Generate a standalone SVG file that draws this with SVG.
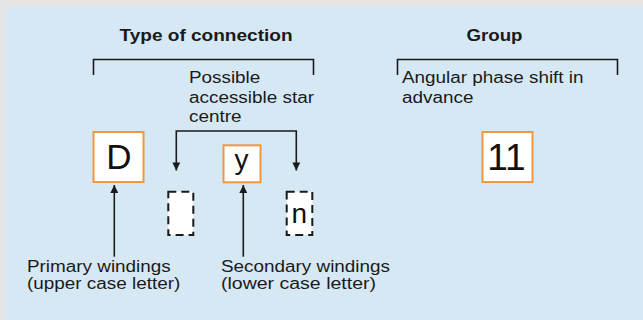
<svg xmlns="http://www.w3.org/2000/svg" width="643" height="320" viewBox="0 0 643 320">
<defs>
<style>
.t{font-family:"Liberation Sans",Arial,sans-serif;font-size:16px;fill:#1a1a1a}
.b{font-weight:bold}
.big{font-family:"Liberation Sans",Arial,sans-serif;fill:#111;text-anchor:middle}
.ln{fill:none;stroke:#1a1a1a;stroke-width:1.6}
.ob{fill:#fff;stroke:#f0973f;stroke-width:2}
.db{fill:#fff;stroke:#1a1a1a;stroke-width:2;stroke-dasharray:8 5}
</style>
<marker id="ah" viewBox="0 0 10 10" refX="10" refY="5" markerWidth="10" markerHeight="8" markerUnits="userSpaceOnUse" orient="auto-start-reverse">
<path d="M0,0 L10,5 L0,10 z" fill="#1a1a1a"/>
</marker>
</defs>
<rect x="0" y="0" width="643" height="320" fill="#e5e5e5"/>
<rect x="6" y="7.5" width="637" height="312.5" fill="#d7e8f5"/>

<g id="connectors">
<path class="ln" d="M93.5,75 V59.5 H313.5 V75"/>
<path class="ln" d="M397.5,75 V59.5 H617.5 V75"/>
<path class="ln" d="M176.3,170.5 V131 H296.3 V170.5" marker-start="url(#ah)" marker-end="url(#ah)"/>
<path class="ln" d="M114.3,256.7 V185" marker-end="url(#ah)"/>
<path class="ln" d="M243.3,256.7 V185" marker-end="url(#ah)"/>
</g>

<g id="title-type"><text class="t b" x="206" y="40.7" text-anchor="middle" textLength="173" lengthAdjust="spacingAndGlyphs">Type of connection</text></g>
<g id="title-group"><text class="t b" x="494.5" y="40.7" text-anchor="middle" textLength="56" lengthAdjust="spacingAndGlyphs">Group</text></g>

<g id="star-label">
<text class="t" x="189" y="83.3" textLength="71.3" lengthAdjust="spacingAndGlyphs">Possible</text>
<text class="t" x="189" y="102.7" textLength="125" lengthAdjust="spacingAndGlyphs">accessible star</text>
<text class="t" x="189" y="122.2" textLength="52.5" lengthAdjust="spacingAndGlyphs">centre</text>
</g>
<g id="phase-label">
<text class="t" x="402" y="82.7" textLength="181.5" lengthAdjust="spacingAndGlyphs">Angular phase shift in</text>
<text class="t" x="402" y="102.7" textLength="71.4" lengthAdjust="spacingAndGlyphs">advance</text>
</g>

<g id="node-D"><rect class="ob" x="93.5" y="132" width="50" height="50"/><text class="big" x="119" y="169.3" font-size="35">D</text></g>
<g id="node-y"><rect class="ob" x="223.5" y="145.3" width="37" height="37"/><text class="big" x="241.5" y="168.8" font-size="28">y</text></g>
<g id="node-11"><rect class="ob" x="482.5" y="132" width="50" height="50"/><text class="big" x="506.5" y="170" font-size="37">11</text></g>
<g id="node-blank"><rect class="db" x="168.3" y="191.7" width="25" height="43.3"/></g>
<g id="node-n"><rect class="db" x="286.7" y="191.7" width="25.6" height="43.3"/><text class="big" x="299.3" y="223" font-size="28">n</text></g>

<g id="primary-label">
<text class="t" x="27" y="271.7" textLength="143.7" lengthAdjust="spacingAndGlyphs">Primary windings</text>
<text class="t" x="27" y="289.3" textLength="153.3" lengthAdjust="spacingAndGlyphs">(upper case letter)</text>
</g>
<g id="secondary-label">
<text class="t" x="221" y="271.7" textLength="169" lengthAdjust="spacingAndGlyphs">Secondary windings</text>
<text class="t" x="221" y="289.3" textLength="155" lengthAdjust="spacingAndGlyphs">(lower case letter)</text>
</g>
</svg>
